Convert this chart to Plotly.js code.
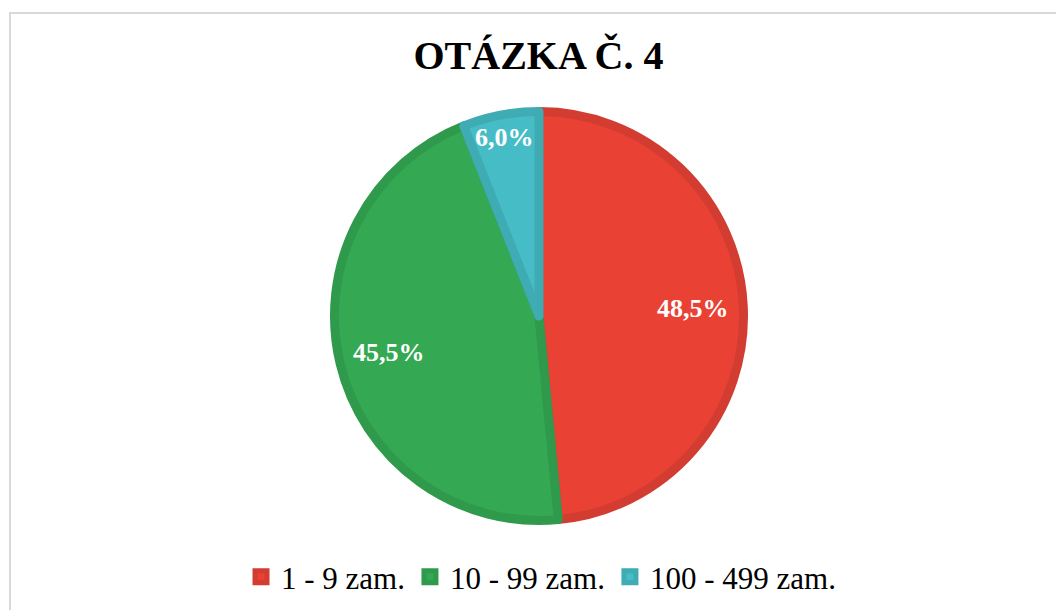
<!DOCTYPE html>
<html>
<head>
<meta charset="utf-8">
<script src="https://cdn.plot.ly/plotly-3.0.1.min.js"></script>
<style>html,body{margin:0;padding:0;background:#fff;}#chart{width:1056px;height:610px;}</style>
</head>
<body>
<div id="chart"></div>
<script>
const categories = ["1 - 9 zam.", "10 - 99 zam.", "100 - 499 zam."];
const values = [48.5, 45.5, 6.0];
const fillColors = ["#E94235", "#34A853", "#46BDC6"];
const edgeColors = ["#D33C31", "#2F9A4B", "#3FABB3"];
const chartTitle = "OTÁZKA Č. 4";

const W = 1056, H = 610;
const cx = 539, cy = 316, r = 204.5;
const lineW = 9;
// label distance from centre, as a fraction of the outer radius (small slice pushed outward)
const labelRadius = [0.74, 0.74, 0.87];
const serif = "Liberation Serif, Times New Roman, serif";

const trace = {
  type: "pie",
  labels: categories,
  values: values,
  sort: false,
  direction: "clockwise",
  rotation: 0,
  marker: { colors: fillColors, line: { color: edgeColors, width: lineW } },
  textinfo: "none",
  hoverinfo: "label+percent",
  domain: { x: [(cx - r) / W, (cx + r) / W], y: [(H - cy - r) / H, (H - cy + r) / H] }
};

// data labels placed on each slice's bisector, computed from the values
const total = values.reduce((a, b) => a + b, 0);
const outerR = r + lineW / 2;
const annotations = [];
let acc = 0;
values.forEach((v, i) => {
  const mid = (acc + v / 2) / total * 2 * Math.PI;
  acc += v;
  const R = outerR * labelRadius[i];
  const px = cx + R * Math.sin(mid);
  const py = cy - R * Math.cos(mid);
  const pct = (v / total * 100).toFixed(1).replace(".", ",") + "%";
  annotations.push({
    xref: "paper", yref: "paper", x: px / W, y: 1 - py / H,
    xanchor: "center", yanchor: "middle", showarrow: false,
    text: "<b>" + pct + "</b>",
    font: { family: serif, size: 26, color: "#FFFFFF" }
  });
});

const layout = {
  width: W, height: H,
  margin: { l: 0, r: 0, t: 0, b: 0 },
  paper_bgcolor: "#FFFFFF",
  title: {
    text: "<b>" + chartTitle + "</b>",
    font: { family: serif, size: 40, color: "#000000" },
    x: 538.5 / W, xref: "container", xanchor: "center",
    y: 1 - 55 / H, yref: "container", yanchor: "middle"
  },
  showlegend: true,
  legend: {
    orientation: "h",
    x: 541 / W, xanchor: "center",
    y: 1 - 577 / H, yanchor: "middle",
    font: { family: serif, size: 31, color: "#000000" },
    itemclick: false,
    traceorder: "normal"
  },
  annotations: annotations,
  shapes: [{
    type: "rect", xref: "paper", yref: "paper",
    x0: 10 / W, x1: 1060 / W, y0: -10 / H, y1: 1 - 13 / H,
    line: { color: "#D9D9D9", width: 2 }, fillcolor: "rgba(0,0,0,0)", layer: "below"
  }]
};

Plotly.newPlot("chart", [trace], layout, { displayModeBar: false, staticPlot: true });
</script>
</body>
</html>
